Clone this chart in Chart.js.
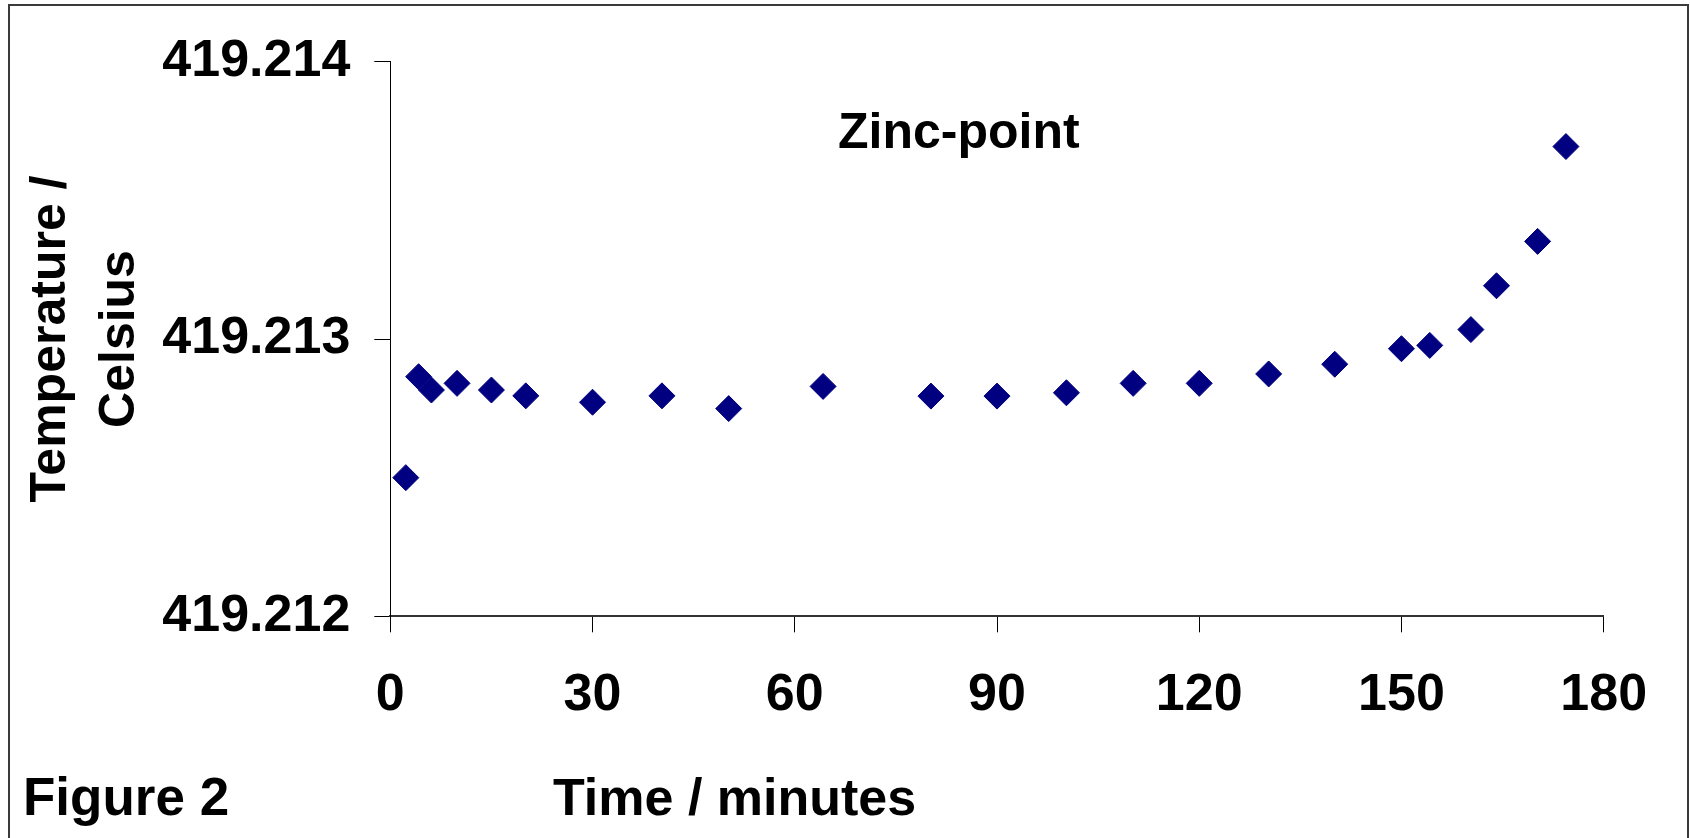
<!DOCTYPE html>
<html>
<head>
<meta charset="utf-8">
<title>Zinc-point</title>
<script src="https://cdn.jsdelivr.net/npm/chart.js@4.4.1/dist/chart.umd.min.js"></script>
<style>
  html, body { margin: 0; padding: 0; background: #fff; overflow: hidden; }
  #wrap { position: relative; width: 1690px; height: 838px; }
  #plot { position: absolute; left: 0; top: 0; }
  #frame {
    position: absolute; left: 8px; top: 4px; width: 1681px; height: 900px;
    border: 2px solid #3a3a3a; box-sizing: border-box; pointer-events: none;
  }
</style>
</head>
<body>
<div id="wrap">
  <canvas id="plot" width="1690" height="838"></canvas>
  <div id="frame"></div>
</div>
<script>
// Elapsed time of each reading (minutes)
const times = [2.3, 4.2, 6.1, 9.9, 15.0, 20.1, 30.0, 40.3, 50.2, 64.2, 80.2, 90.0,
               100.3, 110.2, 120.0, 130.3, 140.1, 150.0, 154.2, 160.3, 164.1, 170.2, 174.4];

// Measured temperature at each reading (degrees Celsius)
const temps = [419.212500, 419.212864, 419.212816, 419.212840, 419.212816, 419.212795,
               419.212772, 419.212795, 419.212749, 419.212829, 419.212794, 419.212794,
               419.212806, 419.212840, 419.212840, 419.212874, 419.212909, 419.212965,
               419.212977, 419.213034, 419.213192, 419.213352, 419.213694];

// Axis ranges and tick spacing
const timeTicks = { min: 0, max: 180, step: 30 };
const tempTicks = { min: 419.212, max: 419.214, step: 0.001 };

// Text labels
const plotTitle = 'Zinc-point';
const xTitle = 'Time / minutes';
const yTitle = ['Temperature /', 'Celsius'];
const figureLabel = 'Figure 2';

const FONT = "'Liberation Sans', Arial, Helvetica, sans-serif";
const MARK = '#000080';

const points = times.map((t, i) => ({ x: t, y: temps[i] }));

// Free-standing captions: plot name, x-axis title and figure number
const captions = {
  id: 'captions',
  afterDraw(chart) {
    const ctx = chart.ctx;
    ctx.save();
    ctx.fillStyle = '#000';
    ctx.textAlign = 'left';
    ctx.textBaseline = 'alphabetic';
    ctx.font = `bold 50px ${FONT}`;
    ctx.fillText(plotTitle, 838, 148);
    ctx.font = `bold 52px ${FONT}`;
    ctx.fillText(xTitle, 553, 815);
    ctx.font = `bold 53px ${FONT}`;
    ctx.fillText(figureLabel, 23, 815);
    ctx.restore();
  }
};

new Chart(document.getElementById('plot'), {
  type: 'scatter',
  data: {
    datasets: [{
      data: points,
      pointStyle: 'rectRot',
      pointRadius: 13,
      pointHoverRadius: 13,
      borderWidth: 1,
      borderColor: MARK,
      backgroundColor: MARK
    }]
  },
  options: {
    responsive: false,
    animation: false,
    devicePixelRatio: 1,
    events: [],
    layout: { padding: { left: 0, top: 61.7, right: 86.3, bottom: 0 } },
    plugins: {
      legend: { display: false },
      tooltip: { enabled: false },
      title: { display: false }
    },
    scales: {
      x: {
        type: 'linear',
        min: timeTicks.min,
        max: timeTicks.max,
        afterFit(scale) { scale.height = 838 - 616.3; },
        ticks: {
          stepSize: timeTicks.step,
          padding: 32,
          color: '#000',
          font: { family: FONT, size: 52, weight: 'bold' },
          maxRotation: 0
        },
        grid: {
          drawOnChartArea: false,
          drawTicks: true,
          tickLength: 16,
          color: '#000',
          lineWidth: 1
        },
        border: { display: true, color: '#333', width: 2 },
        title: { display: false }
      },
      y: {
        type: 'linear',
        min: tempTicks.min,
        max: tempTicks.max,
        afterFit(scale) { scale.width = 390.3; },
        ticks: {
          stepSize: tempTicks.step,
          padding: 24,
          color: '#000',
          font: { family: FONT, size: 52, weight: 'bold' },
          callback: v => Number(v).toFixed(3)
        },
        grid: {
          drawOnChartArea: false,
          drawTicks: true,
          tickLength: 16,
          color: '#000',
          lineWidth: 1
        },
        border: { display: true, color: '#000', width: 1 },
        title: {
          display: true,
          text: yTitle,
          color: '#000',
          font: { family: FONT, size: 50, weight: 'bold', lineHeight: 1.38 },
          padding: { top: 16.5, bottom: 0 }
        }
      }
    }
  },
  plugins: [captions]
});
</script>
</body>
</html>
